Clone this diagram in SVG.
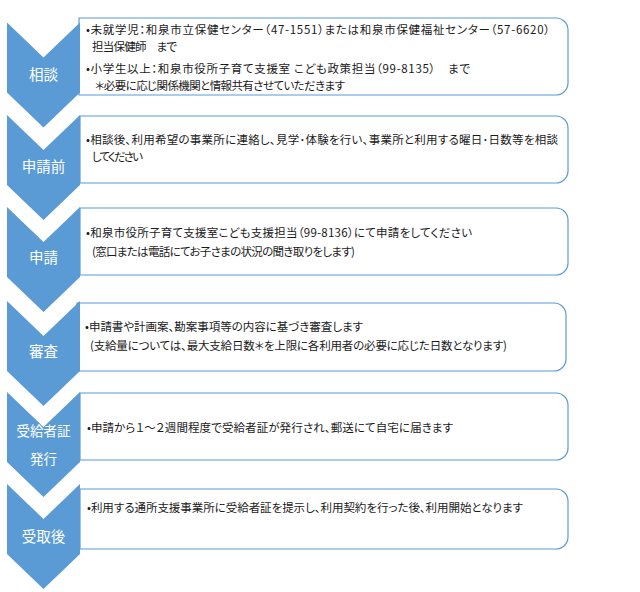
<svg xmlns="http://www.w3.org/2000/svg" width="640" height="592" viewBox="0 0 640 592">
<style>
.box{fill:#ffffff;stroke:#5B9BD5;stroke-width:1.2}
.chev{fill:#5B9BD5}
.lbl{font-family:"Noto Sans CJK JP","Noto Sans",sans-serif;font-size:14.5px;fill:#ffffff;text-anchor:middle;font-feature-settings:"palt"}
.txt{font-family:"Noto Sans CJK JP","Noto Sans",sans-serif;font-size:11.5px;fill:#1a1a1a;font-feature-settings:"palt"}
</style>
<defs>
<path id="chevron" d="M7,0 L43.5,35 L80,0 L80,70 L43.5,105 L7,70 Z"/>
</defs>
<rect width="640" height="592" fill="#ffffff"/>
<g id="connectors"></g>
<g id="step1">
<path class="box" d="M79,18 H556 A12,12 0 0 1 568,30 V83 A12,12 0 0 1 556,95 H79 Z"/>
<use href="#chevron" class="chev" transform="translate(0,22.5)"/>
<text class="lbl" x="43.5" y="80">相談</text>
<text class="txt" x="86" y="34" textLength="464" lengthAdjust="spacing">•未就学児：和泉市立保健センター（47-1551）または和泉市保健福祉センター（57-6620）</text>
<text class="txt" x="92" y="51" textLength="85" lengthAdjust="spacing">担当保健師　まで</text>
<text class="txt" x="86" y="73" textLength="384" lengthAdjust="spacing">•小学生以上：和泉市役所子育て支援室 こども政策担当（99-8135）　まで</text>
<text class="txt" x="95" y="90" textLength="250" lengthAdjust="spacing">＊必要に応じ関係機関と情報共有させていただきます</text>
</g>
<g id="step2">
<path class="box" d="M80,116 H556 A12,12 0 0 1 568,128 V171 A12,12 0 0 1 556,183 H80 Z"/>
<use href="#chevron" class="chev" transform="translate(0,115)"/>
<text class="lbl" x="43.5" y="172">申請前</text>
<text class="txt" x="86" y="144" textLength="472" lengthAdjust="spacing">•相談後、利用希望の事業所に連絡し、見学･体験を行い、事業所と利用する曜日･日数等を相談</text>
<text class="txt" x="92" y="161" textLength="51" lengthAdjust="spacing">してください</text>
</g>
<g id="step3">
<path class="box" d="M80,208 H556 A12,12 0 0 1 568,220 V263 A12,12 0 0 1 556,275 H80 Z"/>
<use href="#chevron" class="chev" transform="translate(0,207)"/>
<text class="lbl" x="43.5" y="263">申請</text>
<text class="txt" x="86" y="237" textLength="386" lengthAdjust="spacing">•和泉市役所子育て支援室こども支援担当（99-8136）にて申請をしてください</text>
<text class="txt" x="92" y="256" textLength="263" lengthAdjust="spacing">(窓口または電話にてお子さまの状況の聞き取りをします)</text>
</g>
<g id="step4">
<path class="box" d="M77,303 H554 A12,12 0 0 1 566,315 V359 A12,12 0 0 1 554,371 H77 Z"/>
<use href="#chevron" class="chev" transform="translate(0,301)"/>
<text class="lbl" x="43.5" y="357">審査</text>
<text class="txt" x="85" y="331" textLength="278" lengthAdjust="spacing">•申請書や計画案、勘案事項等の内容に基づき審査します</text>
<text class="txt" x="90" y="350" textLength="417" lengthAdjust="spacing">(支給量については、最大支給日数＊を上限に各利用者の必要に応じた日数となります)</text>
</g>
<g id="step5">
<path class="box" d="M80,393 H556 A12,12 0 0 1 568,405 V448 A12,12 0 0 1 556,460 H80 Z"/>
<use href="#chevron" class="chev" transform="translate(0,392)"/>
<text class="lbl" x="43.5" y="436" style="font-size:13.5px">受給者証</text>
<text class="lbl" x="43.5" y="464" style="font-size:13.5px">発行</text>
<text class="txt" x="87" y="432" textLength="366" lengthAdjust="spacing">•申請から１～２週間程度で受給者証が発行され、郵送にて自宅に届きます</text>
</g>
<g id="step6">
<path class="box" d="M80,489 H556 A12,12 0 0 1 568,501 V537 A12,12 0 0 1 556,549 H80 Z"/>
<use href="#chevron" class="chev" transform="translate(0,484)"/>
<text class="lbl" x="43.5" y="542">受取後</text>
<text class="txt" x="87" y="512" textLength="436" lengthAdjust="spacing">•利用する通所支援事業所に受給者証を提示し、利用契約を行った後、利用開始となります</text>
</g>
</svg>
